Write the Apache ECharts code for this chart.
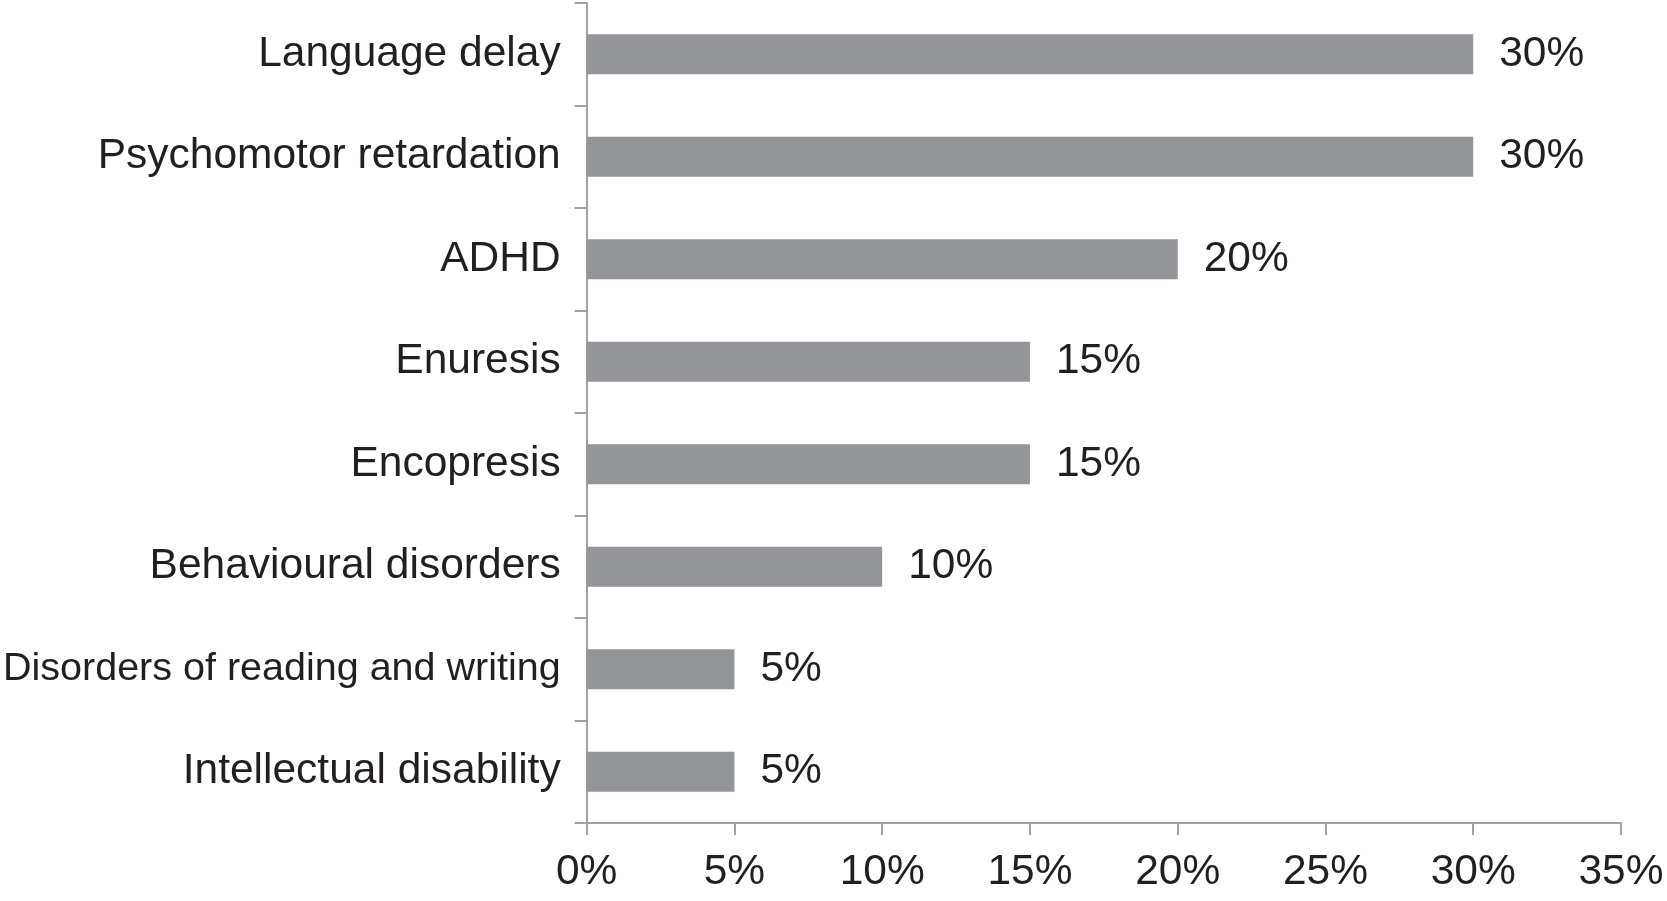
<!DOCTYPE html>
<html>
<head>
<meta charset="utf-8">
<style>
  html, body { margin: 0; padding: 0; background: #ffffff; }
  #chart { width: 1667px; height: 901px; }
</style>
<script src="https://cdn.jsdelivr.net/npm/echarts@6/dist/echarts.min.js"></script>
</head>
<body>
<div id="chart"></div>
<script>
const categories = [
  'Language delay',
  'Psychomotor retardation',
  'ADHD',
  'Enuresis',
  'Encopresis',
  'Behavioural disorders',
  'Disorders of reading and writing',
  'Intellectual disability'
];
const values = [30, 30, 20, 15, 15, 10, 5, 5];
const xTickMin = 0;
const xTickMax = 35;
const xTickStep = 5;

const FONT = "'Liberation Sans', Arial, Helvetica, sans-serif";
const TEXT = '#231f20';
const AXIS = '#a0a2a5';
const BAR = '#939598';

const chart = echarts.init(document.getElementById('chart'), null, { renderer: 'canvas' });
chart.setOption({
  animation: false,
  backgroundColor: '#ffffff',
  grid: { left: 583, right: 46, top: 3, bottom: 78, containLabel: false },
  xAxis: {
    type: 'value',
    min: xTickMin,
    max: xTickMax,
    interval: xTickStep,
    axisLine: { show: true, lineStyle: { color: AXIS, width: 2 } },
    axisTick: { show: true, length: 12, lineStyle: { color: AXIS, width: 2 } },
    splitLine: { show: false },
    axisLabel: {
      formatter: '{value}%',
      fontSize: 42.5,
      fontFamily: FONT,
      color: TEXT,
      margin: 28
    }
  },
  yAxis: {
    type: 'category',
    data: categories,
    inverse: true,
    axisLine: { show: true, lineStyle: { color: AXIS, width: 2 } },
    axisTick: { show: true, length: 12, lineStyle: { color: AXIS, width: 2 } },
    axisLabel: {
      fontSize: 42.5,
      fontFamily: FONT,
      color: TEXT,
      margin: 26,
      formatter: function (v) {
        return v.length > 28 ? '{n|' + v + '}' : v;
      },
      rich: {
        n: { fontSize: 39.5, fontFamily: FONT, color: TEXT }
      }
    }
  },
  series: [{
    type: 'bar',
    data: values,
    barWidth: 40,
    itemStyle: { color: BAR },
    label: {
      show: true,
      position: 'right',
      distance: 26,
      formatter: '{c}%',
      fontSize: 42.5,
      fontFamily: FONT,
      color: TEXT
    }
  }]
});
</script>
</body>
</html>
